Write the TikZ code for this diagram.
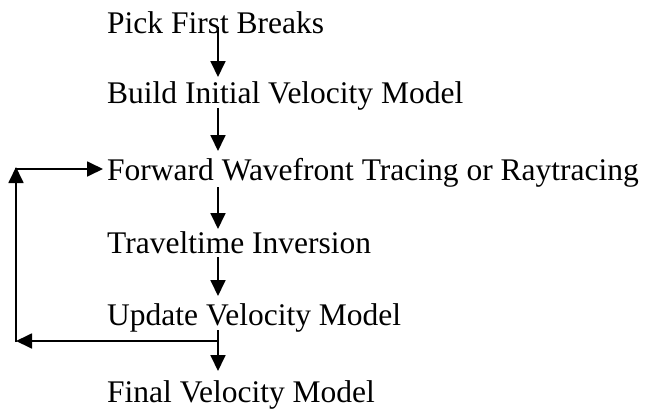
\documentclass[tikz,border=0pt]{standalone}
\usepackage{fontspec}
\setmainfont{Liberation Serif}
\usetikzlibrary{arrows.meta}
\begin{document}
\begin{tikzpicture}[x=1pt,y=-1pt,
  lbl/.style={anchor=base west,inner sep=0pt,font=\fontsize{31.5pt}{36pt}\selectfont},
  arr/.style={line width=1.8pt,-{Triangle[length=16pt,width=15pt]}}]
\useasboundingbox (0,0) rectangle (654,408);
\node[lbl] (pick)  at (107,33)  {Pick First Breaks};
\node[lbl] (build) at (107,103) {Build Initial Velocity Model};
\node[lbl] (fwd)   at (107,180) {Forward Wavefront Tracing or Raytracing};
\node[lbl] (inv)   at (107,253) {Traveltime Inversion};
\node[lbl] (upd)   at (107,325) {Update Velocity Model};
\node[lbl] (fin)   at (107,402) {Final Velocity Model};
% arrow end points
\coordinate (a1s) at (218,27);  \coordinate (a1e) at (218,77);
\coordinate (a2s) at (218,108); \coordinate (a2e) at (218,151);
\coordinate (a3s) at (218,187); \coordinate (a3e) at (218,229);
\coordinate (a4s) at (218,257); \coordinate (a4e) at (218,296);
\coordinate (a5s) at (218,330); \coordinate (a5e) at (218,371);
\coordinate (lb1) at (218,341); \coordinate (lb2) at (16,341);
\coordinate (lb3) at (16,342);  \coordinate (lb4) at (16,167);
\coordinate (lb5) at (15,169);  \coordinate (lb6) at (103,169);
\draw[arr] (a1s) -- (a1e);
\draw[arr] (a2s) -- (a2e);
\draw[arr] (a3s) -- (a3e);
\draw[arr] (a4s) -- (a4e);
\draw[arr] (a5s) -- (a5e);
\draw[arr] (lb1) -- (lb2);
\draw[arr] (lb3) -- (lb4);
\draw[arr] (lb5) -- (lb6);
\end{tikzpicture}
\end{document}
